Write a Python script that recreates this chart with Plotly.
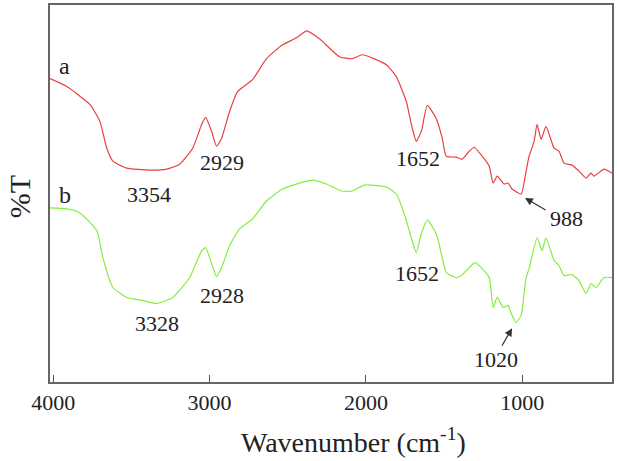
import plotly.graph_objects as go

# Wavenumbers (cm-1) and %T (arbitrary units)
wn_a = [4020, 3912, 3765, 3701, 3657, 3618, 3529, 3382, 3274, 3191, 3108, 3050, 3025, 2987,
        2955, 2923, 2872, 2821, 2725, 2636, 2533, 2444, 2380, 2297, 2170, 2087, 2023, 1870,
        1806, 1742, 1704, 1678, 1646, 1608, 1551, 1512, 1487, 1423, 1385, 1340, 1308, 1257,
        1212, 1187, 1161, 1117, 1091, 1066, 1008, 976, 957, 925, 906, 880, 849, 797, 766,
        734, 683, 638, 593, 561, 542, 478, 427]
t_a = [305, 297, 279, 262, 235, 222, 215, 213, 214, 219, 235, 259, 266, 252,
       237, 245, 272, 292, 304, 325, 339, 346, 353, 345, 327, 325, 329, 319,
       307, 282, 255, 242, 252, 278, 265, 245, 227, 226, 224, 232, 236, 227,
       217, 200, 207, 199, 200, 194, 189, 212, 227, 242, 259, 244, 257, 235, 232,
       220, 218, 212, 205, 210, 207, 214, 210]

wn_b = [4020, 3912, 3829, 3720, 3682, 3618, 3529, 3427, 3338, 3235, 3127, 3050, 3025, 2987,
        2955, 2923, 2872, 2808, 2725, 2636, 2533, 2425, 2342, 2253, 2157, 2087, 2010, 1870,
        1806, 1755, 1710, 1678, 1646, 1608, 1551, 1512, 1487, 1423, 1391, 1340, 1302, 1257,
        1212, 1187, 1161, 1123, 1091, 1072, 1040, 1008, 976, 957, 906, 874, 849, 797, 766,
        734, 683, 638, 593, 561, 530, 478, 427]
t_b = [175, 174, 170, 152, 125, 95, 85, 82, 79, 85, 105, 132, 135, 119,
       106, 115, 137, 154, 164, 182, 194, 200, 203, 199, 192, 192, 198, 196,
       189, 169, 145, 130, 149, 163, 149, 125, 110, 105, 107, 115, 120, 114,
       105, 75, 85, 75, 77, 69, 60, 67, 105, 114, 145, 132, 145, 122, 117,
       107, 108, 102, 89, 99, 95, 105, 105]

tick_vals = [4000, 3000, 2000, 1000]
tick_text = ["4000", "3000", "2000", "1000"]

FONT = "Liberation Serif, Times New Roman, serif"

fig = go.Figure()
fig.add_trace(go.Scatter(x=wn_a, y=t_a, mode="lines", name="a",
                         line=dict(color="#e8403f", width=1.2, shape="spline", smoothing=0.5)))
fig.add_trace(go.Scatter(x=wn_b, y=t_b, mode="lines", name="b",
                         line=dict(color="#84ee3c", width=1.2, shape="spline", smoothing=0.5)))

ann = []
def lab(text, x, y, size=22):
    ann.append(dict(x=x, y=y, xref="x", yref="y", text=text, showarrow=False,
                    font=dict(family=FONT, size=size, color="#222")))

lab("a", 3925, 318, 24)
lab("b", 3925, 188, 24)
lab("3354", 3389, 189)
lab("2929", 2923, 221)
lab("1652", 1665, 225)
lab("988", 715, 164)
lab("2928", 2923, 87)
lab("3328", 3338, 59)
lab("1652", 1672, 109)
lab("1020", 1168, 23)

# arrows
ann.append(dict(x=983, y=185, ax=842, ay=172, xref="x", yref="y", axref="x", ayref="y",
                text="", showarrow=True, arrowhead=2, arrowsize=1.3, arrowwidth=1.2,
                arrowcolor="#333"))
ann.append(dict(x=1066, y=54, ax=1136, ay=35, xref="x", yref="y", axref="x", ayref="y",
                text="", showarrow=True, arrowhead=2, arrowsize=1.3, arrowwidth=1.2,
                arrowcolor="#333"))

# axis titles
ann.append(dict(x=0, y=0.49, xref="paper", yref="paper", text="%T", showarrow=False,
                textangle=-90, xanchor="center", yanchor="middle", xshift=-31,
                borderpad=0,
                font=dict(family=FONT, size=30, color="#222")))
ann.append(dict(x=0.54, y=0, xref="paper", yref="paper",
                text="Wavenumber (cm<sup>-1</sup>)", showarrow=False,
                xanchor="center", yanchor="middle", yshift=-58,
                font=dict(family=FONT, size=28, color="#222")))

fig.update_layout(
    width=617, height=461,
    margin=dict(l=50, r=4, t=3, b=79),
    paper_bgcolor="white", plot_bgcolor="white",
    showlegend=False,
    annotations=ann,
    xaxis=dict(range=[4020, 427], tickvals=tick_vals, ticktext=tick_text,
               ticks="inside", ticklen=7, tickwidth=1, tickcolor="#555",
               showline=True, linecolor="#666", linewidth=1.5, mirror=True,
               showgrid=False, zeroline=False,
               tickfont=dict(family=FONT, size=22, color="#222")),
    yaxis=dict(range=[0, 379], showticklabels=False, ticks="",
               showline=True, linecolor="#666", linewidth=1.5, mirror=True,
               showgrid=False, zeroline=False),
)

fig.write_html("out.html")
